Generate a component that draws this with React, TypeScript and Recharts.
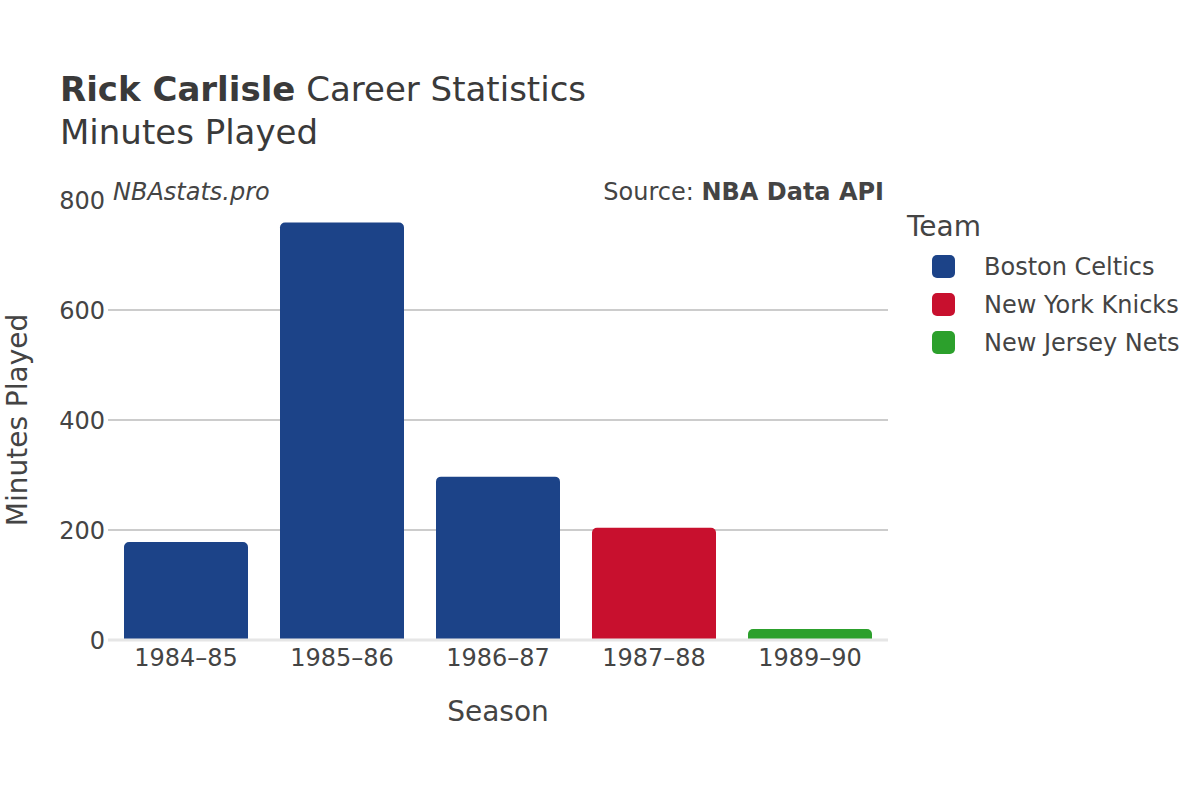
import { BarChart, Bar, XAxis, YAxis, Cell, ReferenceLine, CartesianGrid } from "recharts";

const seasons = ["1984–85", "1985–86", "1986–87", "1987–88", "1989–90"];
const minutes = [178, 759, 297, 204, 20];
const seasonTeams = ["Boston Celtics", "Boston Celtics", "Boston Celtics", "New York Knicks", "New Jersey Nets"];

const teams = ["Boston Celtics", "New York Knicks", "New Jersey Nets"];
const teamColors = ["#1c4388", "#c8102e", "#2ca02c"];

const yTicks = [0, 200, 400, 600, 800];
const gridTicks = [200, 400, 600];

const data = seasons.map((s, i) => ({ season: s, minutes: minutes[i], team: seasonTeams[i] }));

const font = "'DejaVu Sans', sans-serif";
const textColor = "#444";

const colorOf = (team: string) => teamColors[teams.indexOf(team)];

const App = () => {
  return (
    <div style={{ position: "absolute", left: 0, top: 0, width: 1200, height: 800, background: "#fff", fontFamily: font }}>
      <BarChart
        width={1200}
        height={800}
        data={data}
        margin={{ top: 200, right: 312, bottom: 130, left: 48 }}
        barCategoryGap={16}
      >
        <CartesianGrid vertical={false} stroke="#bbbbbb" strokeWidth={1.5} horizontalValues={gridTicks} />
        <XAxis
          dataKey="season"
          height={30}
          tickLine={false}
          axisLine={false}
          tickSize={0}
          tickMargin={9}
          tick={{ fill: textColor, fontSize: 24, fontFamily: font }}
        />
        <YAxis
          width={60}
          domain={[0, 800]}
          ticks={yTicks}
          tickLine={false}
          axisLine={false}
          tickSize={0}
          tickMargin={3}
          tick={{ fill: textColor, fontSize: 24, fontFamily: font }}
        />
        <ReferenceLine y={0} stroke="#e6e6e6" strokeWidth={3} />
        <Bar dataKey="minutes" radius={[5, 5, 0, 0]} isAnimationActive={false}>
          {data.map((d, i) => (
            <Cell key={i} fill={colorOf(d.team)} />
          ))}
        </Bar>
      </BarChart>
      <svg width={1200} height={800} style={{ position: "absolute", left: 0, top: 0, pointerEvents: "none" }}>
        <text x={60} y={101} fontSize={34} fill="#3a3a3a" fontFamily={font}>
          <tspan fontWeight="bold">Rick Carlisle</tspan>
          <tspan> Career Statistics</tspan>
        </text>
        <text x={60} y={144} fontSize={34} fill="#3a3a3a" fontFamily={font}>
          Minutes Played
        </text>
        <text x={113} y={200} fontSize={24} fill={textColor} fontStyle="italic" fontFamily={font}>
          NBAstats.pro
        </text>
        <text x={884} y={200} fontSize={24} fill={textColor} textAnchor="end" fontFamily={font}>
          <tspan>Source: </tspan>
          <tspan fontWeight="bold">NBA Data API</tspan>
        </text>
        <text x={498} y={721} fontSize={28} fill={textColor} textAnchor="middle" fontFamily={font}>
          Season
        </text>
        <text
          x={0}
          y={0}
          fontSize={28}
          fill={textColor}
          textAnchor="middle"
          fontFamily={font}
          transform="translate(27,420) rotate(-90)"
        >
          Minutes Played
        </text>
        <text x={907} y={236} fontSize={28} fill={textColor} fontFamily={font}>
          Team
        </text>
        {teams.map((t, i) => (
          <g key={t}>
            <rect x={932} y={255 + i * 38} width={23} height={23} rx={5} fill={teamColors[i]} />
            <text x={984} y={275 + i * 38} fontSize={24} fill={textColor} fontFamily={font}>
              {t}
            </text>
          </g>
        ))}
      </svg>
    </div>
  );
};

export default App;
